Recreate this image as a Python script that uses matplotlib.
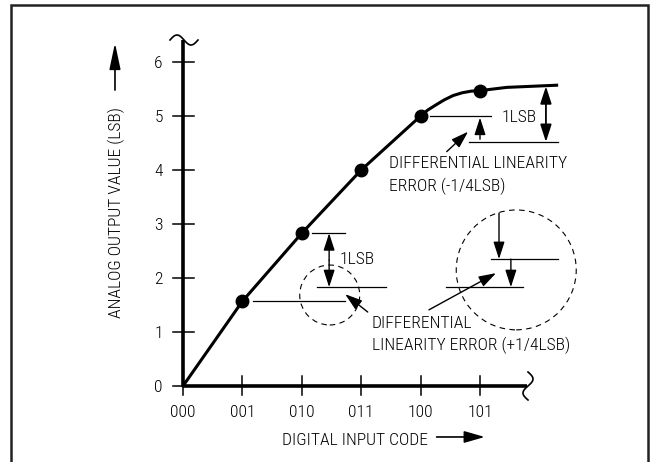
import numpy as np
import matplotlib
matplotlib.use('Agg')
import matplotlib.pyplot as plt
from matplotlib import font_manager as fm
from matplotlib.patches import Ellipse, Rectangle

# the reference uses a condensed sans; take the narrowest one we have
fonts = fm.fontManager.ttflist
names = {f.name for f in fonts}
family, stretch = 'Liberation Sans', 'normal'
for cand in ['Liberation Sans Narrow', 'Roboto Condensed', 'Open Sans Condensed']:
    if cand in names:
        family = cand
        break
else:
    if any(f.name == 'DejaVu Sans' and str(f.stretch) in ('condensed', 'semi-condensed')
           for f in fonts):
        family, stretch = 'DejaVu Sans', 'condensed'
    elif 'Roboto' in names:
        family = 'Roboto'
plt.rcParams['font.family'] = [family, 'DejaVu Sans']
plt.rcParams['font.stretch'] = stretch
plt.rcParams['font.weight'] = 'light'

# axis values
codes = ['000', '001', '010', '011', '100', '101']
y_ticks = [0, 1, 2, 3, 4, 5, 6]

# DAC transfer curve, dots at each code
dot_x = [1, 2, 3, 4, 5]
dot_y = [1.57, 2.83, 4.0, 5.0, 5.47]
curve_x = [0, 1, 2, 3, 4, 4.12, 4.25, 4.4, 4.55, 4.7, 4.85, 5.0, 5.45, 6.29]
curve_y = [0, 1.57, 2.83, 4.0, 5.0, 5.11, 5.2, 5.3, 5.38, 5.43, 5.46, 5.47, 5.53, 5.57]

k = 'black'

fig = plt.figure(figsize=(6.5, 4.62), dpi=100)
ax = fig.add_axes([0, 0, 1, 1])
# pixel mapping: x_px = 183 + 59.4*x, y_px = 386 - 54*y
ax.set_xlim(-183 / 59.4, (650 - 183) / 59.4)
ax.set_ylim((386 - 462) / 54, 386 / 54)
ax.axis('off')

# size the text so "DIFFERENTIAL LINEARITY" is as wide as in the reference
probe = ax.text(0, 0, 'DIFFERENTIAL LINEARITY', fontsize=12)
fig.canvas.draw()
w = probe.get_window_extent().width
probe.remove()
FS = min(13.5, 12 * 177 / w)

# frame
fig.patches.append(Rectangle((11 / 650, -0.1), (648 - 11) / 650, 1.1 - 5 / 462,
                             transform=fig.transFigure, fill=False,
                             ec='#222222', lw=1.8, clip_on=False))

# axes
ax.plot([0, 0], [0, 6.41], color=k, lw=2.6, solid_capstyle='butt')
ax.plot([0, 5.79], [0, 0], color=k, lw=2.6, solid_capstyle='butt')
for i in range(len(codes)):
    ax.plot([i, i], [-0.167, 0.185], color=k, lw=1.1)
    ax.text(i, -0.57, codes[i], ha='center', va='baseline', fontsize=FS)
for v in y_ticks:
    ax.plot([-0.17, 0.185], [v, v], color=k, lw=1.1)
    ax.text(-0.34, v, str(v), ha='right', va='center_baseline', fontsize=FS)

# break marks
t = np.linspace(0, 1, 40)
ax.plot((170 + 28 * t - 183) / 59.4, (386 - (40 - 5 * np.sin(2 * np.pi * t))) / 54,
        color=k, lw=1.2)
ax.plot((528 + 5 * np.sin(2 * np.pi * t) - 183) / 59.4, (386 - (372 + 28 * t)) / 54,
        color=k, lw=1.2)

# curve
ax.plot(curve_x, curve_y, color=k, lw=2.2, solid_joinstyle='round')
ax.plot(dot_x, dot_y, 'o', color=k, markersize=9)


def arrow(tail, tip, both=False, lw=1.0, hl=1.05, hw=0.34):
    style = ('<|-|>' if both else '-|>') + ',head_length=%g,head_width=%g' % (hl, hw)
    ax.annotate('', xy=tip, xytext=tail,
                arrowprops=dict(arrowstyle=style, color=k, lw=lw,
                                shrinkA=0, shrinkB=0, mutation_scale=10))


thin = dict(color=k, lw=0.9)

# +1/4 LSB detail
ax.plot([1.18, 2.73], [dot_y[0], dot_y[0]], **thin)
ax.plot([2.17, 2.73], [dot_y[1], dot_y[1]], **thin)
ax.plot([2.26, 3.42], [1.83, 1.83], **thin)
arrow((2.46, 2.33), (2.46, dot_y[1]))
arrow((2.46, 2.33), (2.46, 1.83))
ax.text(2.63, 2.26, '1LSB', fontsize=FS, va='baseline')
ax.add_patch(Ellipse((2.47, 1.685), 1.01, 1.11, fill=False, ec=k, lw=0.8,
                     ls=(0, (5, 4))))
arrow((3.11, 1.37), (2.73, 1.70))

ax.add_patch(Ellipse((5.61, 2.15), 2.02, 2.22, fill=False, ec=k, lw=0.8,
                     ls=(0, (5, 4))))
ax.plot([5.19, 6.31], [2.35, 2.35], **thin)
ax.plot([4.43, 5.72], [1.83, 1.83], **thin)
arrow((5.32, 3.20), (5.32, 2.35))
arrow((5.52, 2.35), (5.52, 1.83))
arrow((4.14, 1.41), (5.27, 2.09))
ax.text(3.18, 1.07, 'DIFFERENTIAL', fontsize=FS, va='baseline')
ax.text(3.18, 0.67, 'LINEARITY ERROR (+1/4LSB)', fontsize=FS, va='baseline')

# -1/4 LSB detail
ax.plot([4.16, 5.19], [dot_y[3], dot_y[3]], **thin)
ax.plot([4.81, 6.31], [4.52, 4.52], **thin)
arrow((6.11, 4.52), (6.11, 5.55), both=True, lw=1.3)
arrow((5.0, 4.57), (5.0, 4.97))
arrow((4.44, 4.34), (4.80, 4.71))
ax.text(5.37, 4.89, '1LSB', fontsize=FS, va='baseline')
ax.text(3.47, 4.03, 'DIFFERENTIAL LINEARITY', fontsize=FS, va='baseline')
ax.text(3.47, 3.60, 'ERROR (-1/4LSB)', fontsize=FS, va='baseline')

# axis titles
ax.text(-1.12, 3.21, 'ANALOG OUTPUT VALUE (LSB)', rotation=90, ha='center',
        va='center', fontsize=FS)
arrow((-1.145, 5.48), (-1.145, 6.35), lw=1.2, hl=1.6, hw=0.34)
ax.text(1.67, -1.09, 'DIGITAL INPUT CODE', fontsize=FS, va='baseline')
arrow((4.27, -0.944), (5.08, -0.944), lw=1.2, hl=1.25, hw=0.36)

fig.savefig('out.png', dpi=100)
